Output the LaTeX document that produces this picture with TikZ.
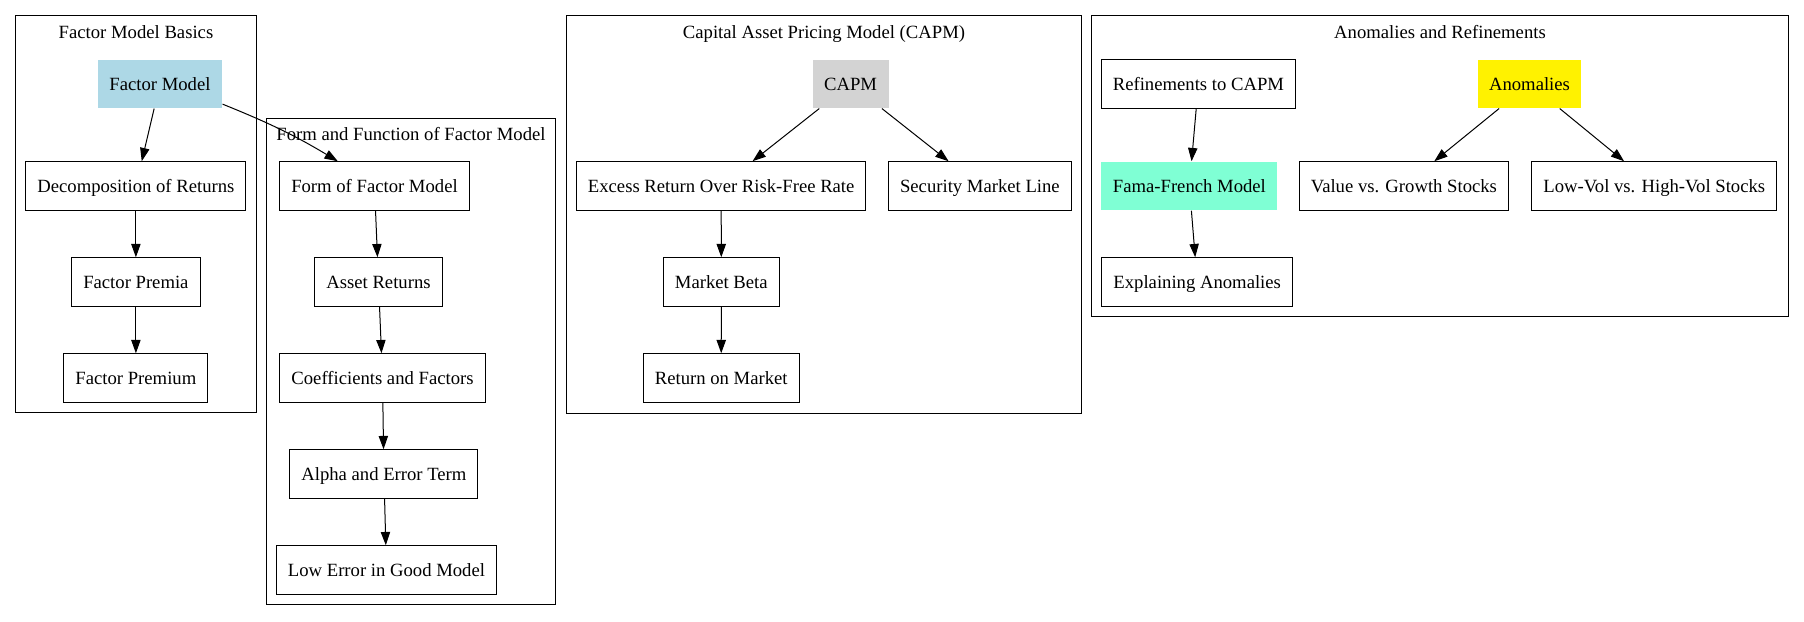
\documentclass[tikz,border=0pt]{standalone}
\usepackage{fontspec}
\setmainfont{Liberation Serif}
\usetikzlibrary{arrows.meta}

\begin{document}
\begin{tikzpicture}[x=1pt,y=1pt,>={Triangle[length=13.3pt,width=9.3pt]},
	box/.style={draw,line width=1pt,minimum height=48.5pt,inner xsep=11.5pt,inner ysep=0pt,
		text height=16pt,text depth=3.6pt,font=\fontsize{18.67}{22}\selectfont},
	filledbox/.style={box,draw=none,fill=#1},
	cluster/.style={draw,line width=1pt},
	title/.style={text height=16pt,text depth=3.6pt,font=\fontsize{18.67}{22}\selectfont},
	edge/.style={->,line width=1pt}]

\definecolor{lightblue}{HTML}{ADD8E6}
\definecolor{lightgray}{HTML}{D3D3D3}
\definecolor{aquamarine}{HTML}{7FFFD4}

\useasboundingbox (0,0) rectangle (1804,-621);

% clusters
\draw[cluster] (15.3,-15.8) rectangle (256,-412.7);
\node[title] (basics) at (136,-32) {Factor Model Basics};
\draw[cluster] (266.7,-118) rectangle (555.7,-604.8);
\node[title] (formfun) at (411,-134.7) {Form and Function of Factor Model};
\draw[cluster] (566.2,-15.7) rectangle (1081.7,-413.3);
\node[title] (capmtitle) at (824,-32.3) {Capital Asset Pricing Model (CAPM)};
\draw[cluster] (1091.5,-15.7) rectangle (1788.7,-316.7);
\node[title] (anomtitle) at (1440,-32.3) {Anomalies and Refinements};

% factor model basics
\node[filledbox=lightblue] (fm) at (160,-83.8) {Factor Model};
\node[box] (dec) at (135.9,-186) {Decomposition of Returns};
\node[box] (premia) at (135.9,-282) {Factor Premia};
\node[box] (premium) at (135.9,-378) {Factor Premium};

% form and function
\node[box] (form) at (374.5,-186) {Form of Factor Model};
\node[box] (asset) at (378.5,-282) {Asset Returns};
\node[box] (coeff) at (382.5,-378) {Coefficients and Factors};
\node[box] (alpha) at (383.9,-474) {Alpha and Error Term};
\node[box] (lowerr) at (386.5,-570) {Low Error in Good Model};

% capm
\node[filledbox=lightgray] (capm) at (850.6,-83.8) {CAPM};
\node[box] (excess) at (721.2,-186) {Excess Return Over Risk-Free Rate};
\node[box] (sml) at (979.9,-186) {Security Market Line};
\node[box] (beta) at (721.3,-282) {Market Beta};
\node[box] (retmkt) at (721.2,-378) {Return on Market};

% anomalies and refinements
\node[box] (refine) at (1198.4,-83.8) {Refinements to CAPM};
\node[filledbox=yellow] (anom) at (1529.5,-83.8) {Anomalies};
\node[filledbox=aquamarine] (fama) at (1189.4,-186) {Fama-French Model};
\node[box] (value) at (1403.9,-186) {Value vs. Growth Stocks};
\node[box] (lowvol) at (1654.3,-186) {Low-Vol vs. High-Vol Stocks};
\node[box] (explain) at (1197.2,-282) {Explaining Anomalies};

% edges
\draw[edge] (fm) -- (dec);
\draw[edge] (dec) -- (premia);
\draw[edge] (premia) -- (premium);
\draw[edge] (fm.-18) to[out=-22,in=149] (form.146);
\draw[edge] (form) -- (asset);
\draw[edge] (asset) -- (coeff);
\draw[edge] (coeff) -- (alpha);
\draw[edge] (alpha) -- (lowerr);
\draw[edge] (capm) -- (excess);
\draw[edge] (capm) -- (sml);
\draw[edge] (excess) -- (beta);
\draw[edge] (beta) -- (retmkt);
\draw[edge] (refine) -- (fama);
\draw[edge] (fama) -- (explain);
\draw[edge] (anom) -- (value);
\draw[edge] (anom) -- (lowvol);

\end{tikzpicture}
\end{document}
